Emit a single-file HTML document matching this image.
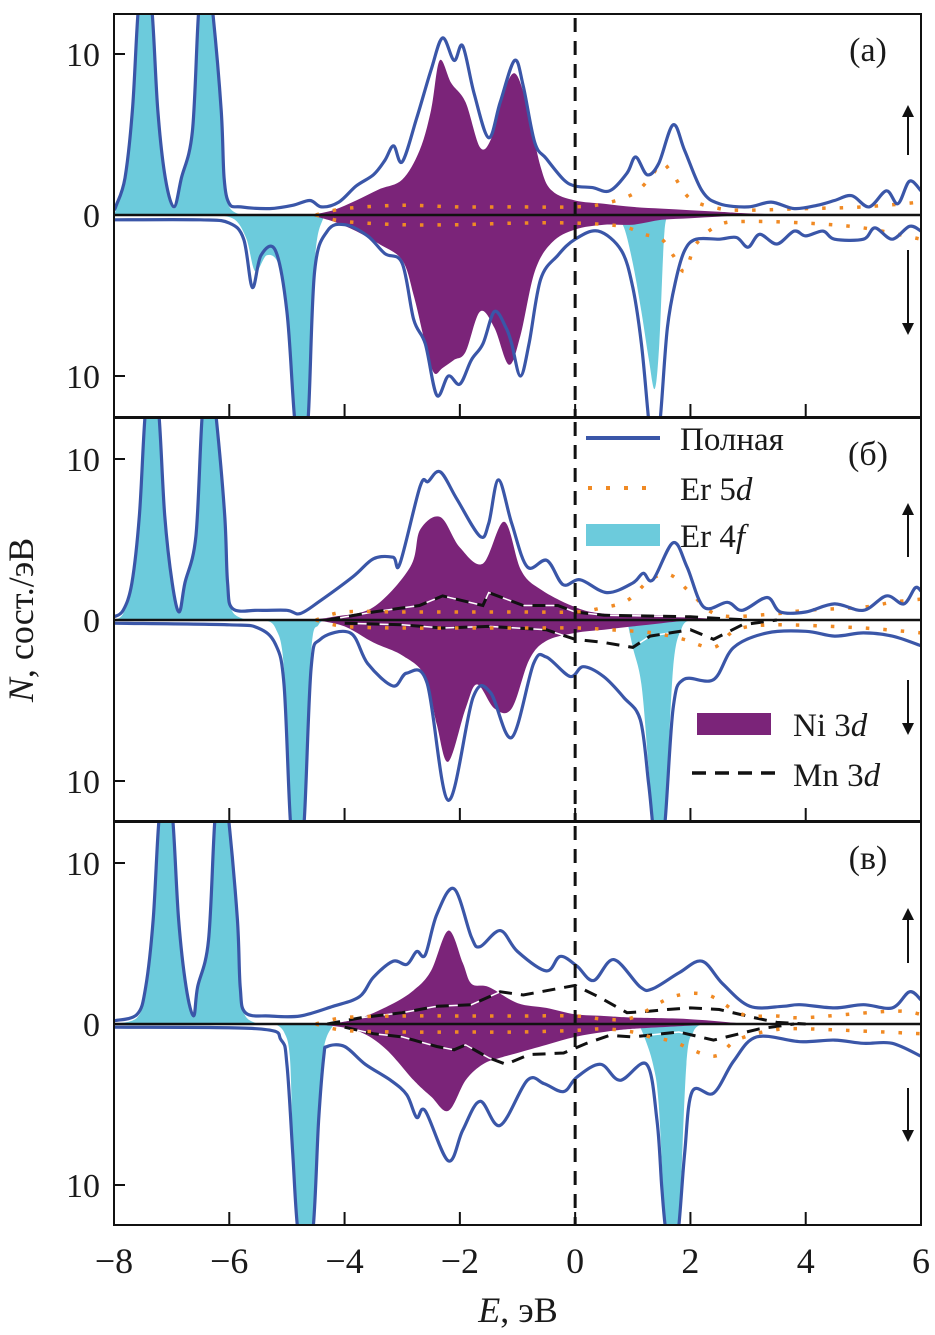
<!DOCTYPE html>
<html><head><meta charset="utf-8"><style>
html,body{margin:0;padding:0;background:#fff;}
svg{display:block;}
text{font-family:"Liberation Serif",serif;fill:#1a1a1a;}
</style></head><body>
<svg id="chart" width="935" height="1335" viewBox="0 0 935 1335" xmlns="http://www.w3.org/2000/svg">
<defs>
<clipPath id="clip0"><rect x="114" y="14" width="807" height="403"/></clipPath>
<clipPath id="clip1"><rect x="114" y="419" width="807" height="402"/></clipPath>
<clipPath id="clip2"><rect x="114" y="823" width="807" height="402"/></clipPath>
</defs>
<g id="plots"></g>
<g id="axes"></g>
<g id="legend">
  <line x1="586" y1="438" x2="660" y2="438" stroke="#3a56a8" stroke-width="4"/>
  <text x="680" y="450" font-size="33">Полная</text>
  <line x1="588" y1="488" x2="660" y2="488" stroke="#f08a24" stroke-width="4" stroke-dasharray="4 14"/>
  <text x="680" y="500" font-size="33">Er 5<tspan font-style="italic">d</tspan></text>
  <rect x="586" y="524" width="74" height="22" fill="#6ccbdc"/>
  <text x="680" y="547" font-size="33">Er 4<tspan font-style="italic">f</tspan></text>
  <rect x="697" y="713" width="74" height="22" fill="#7b2479"/>
  <text x="793" y="736" font-size="33">Ni 3<tspan font-style="italic">d</tspan></text>
  <line x1="692" y1="773" x2="776" y2="773" stroke="#111" stroke-width="3.5" stroke-dasharray="14 9"/>
  <text x="793" y="786" font-size="33">Mn 3<tspan font-style="italic">d</tspan></text>
</g>
</svg>
<script>
// ---------- data ----------
const xTicks = [-8,-6,-4,-2,0,2,4,6];
const xTickLabels = ["−8","−6","−4","−2","0","2","4","6"];
const yTicks = [10,0,-10];
const yTickLabels = ["10","0","10"];
const panelLabels = ["(а)","(б)","(в)"];

const aTotalUp = [[-8,0.3],[-7.96,0.6],[-7.81,2.3],[-7.68,6.5],[-7.58,12.7],[-7.46,16],[-7.34,12.7],[-7.24,6.5],[-7.11,2.3],[-6.96,0.5],[-6.83,2.3],[-6.64,5.2],[-6.53,12.7],[-6.41,16],[-6.29,12.7],[-6.14,6.5],[-6.09,2.3],[-6.0,0.7],[-5.8,0.5],[-5.3,0.4],[-4.9,0.6],[-4.6,0.9],[-4.4,0.5],[-4.1,0.8],[-3.8,1.8],[-3.5,2.5],[-3.3,3.4],[-3.15,4.3],[-3.0,3.3],[-2.75,6],[-2.5,9],[-2.3,11],[-2.1,9.6],[-1.95,10.5],[-1.75,7.5],[-1.5,4.8],[-1.3,7],[-1.05,9.6],[-0.9,8],[-0.7,4.5],[-0.5,3.5],[-0.2,2.2],[0,1.8],[0.3,1.7],[0.6,1.5],[0.9,2.6],[1.05,3.6],[1.25,2.5],[1.45,3.2],[1.7,5.6],[1.9,4],[2.2,1.5],[2.5,0.7],[3,0.5],[3.4,0.8],[3.8,0.4],[4.2,0.6],[4.5,0.9],[4.8,1.2],[5.1,0.5],[5.4,1.5],[5.6,0.7],[5.8,2.1],[6,1.5]];
const aTotalDown = [[-8,-0.3],[-6.5,-0.3],[-6,-0.5],[-5.75,-1.5],[-5.6,-4.5],[-5.45,-2.5],[-5.2,-2.2],[-5.0,-6],[-4.87,-12.5],[-4.75,-16],[-4.63,-12.5],[-4.52,-3.5],[-4.3,-1],[-4.0,-0.6],[-3.6,-1.3],[-3.3,-2.4],[-3.0,-3],[-2.8,-6.5],[-2.6,-8],[-2.4,-11.2],[-2.2,-10],[-2.0,-10.5],[-1.8,-9],[-1.6,-8],[-1.4,-6],[-1.2,-7],[-1.1,-8],[-0.95,-10],[-0.8,-8],[-0.6,-4],[-0.3,-2.5],[0,-1.5],[0.4,-1],[0.8,-2.2],[1.0,-4.5],[1.15,-8],[1.27,-12.5],[1.37,-16],[1.48,-12.5],[1.6,-7],[1.75,-4],[1.9,-2.2],[2.1,-1.5],[2.5,-1.5],[2.8,-1.4],[3.0,-2],[3.2,-1.2],[3.5,-1.8],[3.8,-1.0],[4.0,-1.3],[4.3,-1.0],[4.5,-1.5],[5,-1.5],[5.2,-0.8],[5.5,-1.5],[5.8,-0.7],[6,-1.0]];
const aNiUp = [[-4.6,0],[-4.2,0.3],[-3.8,0.9],[-3.4,1.6],[-3.0,2.2],[-2.7,4],[-2.5,6.5],[-2.35,9.6],[-2.15,8.2],[-1.9,7],[-1.65,4.2],[-1.45,4.8],[-1.25,7.5],[-1.05,8.8],[-0.85,7],[-0.6,3],[-0.4,1.5],[0,0.9],[0.5,0.7],[1,0.5],[1.5,0.4],[2,0.3],[2.5,0.2],[3,0.1],[4,0]];
const aNiDown = [[-4.6,0],[-4.2,-0.4],[-3.8,-1],[-3.4,-1.8],[-3,-2.8],[-2.8,-5],[-2.6,-8],[-2.45,-9.8],[-2.3,-9.5],[-2.1,-9],[-1.9,-8.5],[-1.65,-6],[-1.4,-7],[-1.15,-9.3],[-0.95,-7.5],[-0.7,-3.5],[-0.4,-1.7],[0,-0.9],[0.5,-0.6],[1,-0.6],[1.5,-0.3],[2,-0.2],[2.5,-0.1],[3,0]];
const aEr4fUp = [[-8,0],[-7.96,0.4],[-7.81,2.1],[-7.68,6.3],[-7.58,12.5],[-7.46,16],[-7.34,12.5],[-7.24,6.3],[-7.11,2.1],[-6.96,0.4],[-6.83,2.1],[-6.64,5],[-6.53,12.5],[-6.41,16],[-6.29,12.5],[-6.14,6.3],[-6.09,2.1],[-6.0,0.5],[-5.8,0]];
const aEr4fDown = [[-6.2,0],[-5.9,-0.3],[-5.7,-1.5],[-5.55,-3.5],[-5.35,-2.5],[-5.15,-3],[-5.0,-5.5],[-4.87,-12.5],[-4.75,-16],[-4.63,-12.5],[-4.52,-3],[-4.38,-0.3],[-4.2,0]];
const aEr4fDown2 = [[0.7,0],[0.85,-0.8],[1.0,-3],[1.15,-6],[1.28,-9],[1.38,-10.8],[1.46,-8],[1.55,-1],[1.65,0]];
const aEr5dUp = [[-4.5,0],[-4,0.4],[-3,0.6],[-2,0.5],[-1,0.5],[0,0.5],[0.5,0.7],[1,1.3],[1.3,2.3],[1.5,3.2],[1.7,2.5],[2,1],[2.5,0.4],[3,0.3],[4,0.4],[5,0.5],[6,0.8]];
const aEr5dDown = [[-4.5,0],[-4,-0.4],[-3,-0.6],[-2,-0.6],[-1,-0.5],[0,-0.5],[0.8,-0.7],[1.2,-1.2],[1.5,-1.5],[1.7,-2.5],[1.9,-3.5],[2.1,-1.8],[2.5,-0.6],[3,-0.4],[4,-0.5],[5,-0.8],[6,-1.5]];

const bTotalUp = [[-8,0.2],[-7.84,0.6],[-7.69,2.3],[-7.56,6.5],[-7.46,12.7],[-7.34,16],[-7.22,12.7],[-7.12,6.5],[-6.99,2.3],[-6.87,0.5],[-6.77,2.3],[-6.58,5.2],[-6.47,12.7],[-6.35,16],[-6.23,12.7],[-6.08,6.5],[-6.03,2.3],[-5.94,0.7],[-5.5,0.6],[-5,0.6],[-4.77,0.4],[-4.42,1.2],[-3.85,2.7],[-3.5,3.8],[-3.16,3.9],[-3.04,3.5],[-2.69,8.3],[-2.55,8.6],[-2.34,9.2],[-2.05,7.5],[-1.65,5.2],[-1.5,6],[-1.33,8.7],[-1.1,6],[-0.83,3.3],[-0.49,3.7],[-0.21,2.2],[0.09,2.5],[0.55,1.7],[1.0,2.3],[1.18,2.9],[1.35,2.5],[1.7,4.8],[1.94,3.3],[2.23,0.8],[2.64,1.1],[2.9,0.6],[3.33,1.4],[3.56,0.5],[4,0.5],[4.5,1],[5,0.6],[5.4,1.5],[5.7,1.0],[5.9,2.0],[6,1.8]];
const bTotalDown = [[-8,-0.2],[-6,-0.3],[-5.5,-0.5],[-5.2,-1.5],[-5.05,-4],[-4.94,-12.5],[-4.82,-16],[-4.70,-12.5],[-4.58,-3],[-4.42,-1.2],[-3.9,-0.8],[-3.6,-2.7],[-3.16,-4.1],[-2.92,-3.3],[-2.57,-3.9],[-2.2,-11.2],[-1.77,-4.8],[-1.47,-4.5],[-1.1,-7.3],[-0.72,-2.7],[-0.5,-2.3],[-0.09,-3.5],[0.14,-2.9],[0.49,-3.5],[0.84,-4.8],[1.13,-6.2],[1.27,-10],[1.34,-12.5],[1.44,-16],[1.56,-12.5],[1.7,-5.5],[1.88,-3.7],[2.4,-3.7],[2.75,-1.7],[3.33,-0.8],[4,-0.7],[4.5,-1.0],[5,-0.8],[5.5,-1.0],[6,-1.6]];
const bNiUp = [[-4.6,0],[-4.2,0.2],[-3.5,0.8],[-2.86,3.3],[-2.69,5.6],[-2.34,6.4],[-2.0,4.5],[-1.6,3.5],[-1.23,6.1],[-0.94,3.1],[-0.6,1.9],[0,0.8],[0.5,0.4],[1.5,0.3],[2.5,0.1],[3,0]];
const bNiDown = [[-4.5,0],[-4,-0.4],[-3.5,-1.4],[-3.0,-2.2],[-2.6,-3.5],[-2.4,-6.5],[-2.2,-8.8],[-1.9,-5.5],[-1.7,-4.0],[-1.4,-5.5],[-1.1,-5.5],[-0.8,-2.5],[-0.5,-1.3],[0,-0.8],[0.5,-0.6],[1,-0.4],[1.5,-0.2],[2,0]];
const bEr4fUp = [[-8,0],[-7.84,0.4],[-7.69,2.1],[-7.56,6.3],[-7.46,12.5],[-7.34,16],[-7.22,12.5],[-7.12,6.3],[-6.99,2.1],[-6.87,0.4],[-6.77,2.1],[-6.58,5],[-6.47,12.5],[-6.35,16],[-6.23,12.5],[-6.08,6.3],[-6.03,2.1],[-5.94,0.5],[-5.7,0]];
const bEr4fDown = [[-5.4,0],[-5.2,-0.5],[-5.05,-3],[-4.94,-12.5],[-4.82,-16],[-4.70,-12.5],[-4.58,-2],[-4.45,-0.3],[-4.3,0]];
const bEr4fDown2 = [[0.9,0],[1.0,-1.7],[1.15,-4],[1.27,-9],[1.34,-12.5],[1.44,-16],[1.56,-12.5],[1.7,-3],[1.85,-0.5],[2.0,0]];
const bEr5dUp = [[-4.5,0],[-4,0.5],[-3,0.5],[-2,0.5],[-1,0.5],[0,0.5],[0.4,0.7],[0.9,1.2],[1.3,2.5],[1.65,2.8],[2.0,1.7],[2.5,0.3],[3.5,0.4],[4,0.6],[5,0.8],[5.5,1.1],[6,1.3]];
const bEr5dDown = [[-4.5,0],[-4,-0.4],[-3,-0.5],[-2,-0.5],[-1,-0.5],[0,-0.5],[0.6,-0.6],[1.35,-0.8],[1.88,-1.2],[2.4,-1.7],[2.8,-0.6],[3.5,-0.3],[5,-0.5],[6,-0.8]];
const bMnUp = [[-4.3,0],[-3.5,0.5],[-2.7,0.9],[-2.3,1.5],[-1.6,0.9],[-1.5,1.7],[-0.9,0.9],[-0.3,0.9],[0,0.5],[0.5,0.3],[2,0.2],[3,0]];
const bMnDown = [[-4,-0.2],[-3,-0.3],[-2.3,-0.5],[-1.5,-0.4],[-0.5,-0.6],[0,-1.2],[0.5,-1.4],[1.0,-1.7],[1.3,-1.0],[2.0,-0.6],[2.4,-1.2],[2.9,-0.3],[3.5,0]];

const cTotalUp = [[-8,0.2],[-7.6,0.6],[-7.45,2.3],[-7.32,6.5],[-7.22,12.7],[-7.1,16],[-6.98,12.7],[-6.88,6.5],[-6.75,2.3],[-6.62,0.5],[-6.55,2.3],[-6.36,5.2],[-6.25,12.7],[-6.13,16],[-6.01,12.7],[-5.86,6.5],[-5.81,2.3],[-5.72,0.7],[-5.3,0.5],[-4.77,0.5],[-4.2,1.1],[-3.74,1.7],[-3.5,2.9],[-3.16,3.9],[-2.92,3.7],[-2.75,4.5],[-2.6,4.3],[-2.4,6.8],[-2.1,8.4],[-1.8,5.4],[-1.65,4.8],[-1.3,5.8],[-1.0,4.5],[-0.5,3.3],[-0.26,4.2],[0.03,3.6],[0.32,2.7],[0.67,4.0],[1.13,2.3],[1.35,2.2],[1.81,3.2],[2.2,3.9],[2.56,2.5],[3.03,1.1],[3.6,1.1],[3.9,1.2],[4.5,1.0],[5,1.2],[5.5,1.0],[5.8,2.0],[6,1.5]];
const cTotalDown = [[-8,-0.2],[-5.5,-0.3],[-5.1,-1],[-5.0,-2.5],[-4.9,-8],[-4.82,-12.5],[-4.68,-16],[-4.54,-12.5],[-4.45,-6],[-4.36,-2],[-4.3,-1.4],[-4.0,-1.4],[-3.64,-2.5],[-3.2,-3.5],[-2.92,-4.4],[-2.75,-5.8],[-2.6,-5.4],[-2.2,-8.5],[-1.95,-6.6],[-1.65,-4.8],[-1.3,-6.3],[-0.83,-3.5],[-0.54,-3.7],[-0.2,-4.2],[0.03,-3.3],[0.44,-2.5],[0.78,-3.5],[1.24,-2.5],[1.42,-6],[1.5,-10],[1.56,-12.5],[1.68,-16],[1.8,-12.5],[1.9,-8],[2.03,-4.2],[2.4,-4.3],[2.75,-2.3],[3.15,-0.8],[3.9,-1.1],[4.5,-1.0],[5,-1.2],[5.5,-1.2],[6,-2.0]];
const cNiUp = [[-4.5,0],[-3.8,0.3],[-3.2,1.2],[-2.8,2.1],[-2.5,3.3],[-2.2,5.8],[-1.95,3.8],[-1.8,2.5],[-1.5,2.3],[-1.0,1.3],[-0.5,1.0],[0,0.6],[0.5,0.5],[1.0,0.4],[2,0.3],[3,0]];
const cNiDown = [[-4.5,0],[-3.8,-0.4],[-3.3,-1.5],[-2.8,-3.5],[-2.5,-4.5],[-2.2,-5.4],[-1.9,-3.5],[-1.6,-2.5],[-1.3,-2.1],[-1.0,-1.8],[-0.5,-1.3],[0,-0.8],[0.5,-0.5],[1,-0.3],[2,-0.1],[2.5,0]];
const cEr4fUp = [[-8,0],[-7.6,0.4],[-7.45,2.1],[-7.32,6.3],[-7.22,12.5],[-7.1,16],[-6.98,12.5],[-6.88,6.3],[-6.75,2.1],[-6.62,0.4],[-6.55,2.1],[-6.36,5],[-6.25,12.5],[-6.13,16],[-6.01,12.5],[-5.86,6.3],[-5.81,2.1],[-5.72,0.5],[-5.5,0]];
const cEr4fDown = [[-5.2,0],[-5.05,-0.5],[-4.95,-2],[-4.9,-7],[-4.82,-12.5],[-4.68,-16],[-4.54,-12.5],[-4.45,-5],[-4.36,-1.5],[-4.22,-0.2],[-4.1,0]];
const cEr4fDown2 = [[1.1,0],[1.2,-0.8],[1.35,-2.5],[1.45,-5],[1.56,-12.5],[1.68,-16],[1.8,-12.5],[1.93,-2.5],[2.05,-0.5],[2.2,0]];
const cEr5dUp = [[-4.5,0],[-4,0.4],[-3,0.5],[-2,0.5],[-1,0.5],[0,0.5],[0.5,0.3],[1.0,0.4],[1.7,1.7],[2.3,1.8],[2.9,0.6],[3.5,0.5],[4,0.4],[5.5,0.8],[6,0.6]];
const cEr5dDown = [[-4.5,0],[-4,-0.4],[-3,-0.5],[-2,-0.5],[-1,-0.5],[0,-0.4],[0.5,-0.3],[1.0,-0.5],[1.3,-0.8],[1.7,-1.1],[2.4,-2.0],[2.8,-1.0],[3.4,-0.4],[4,-0.3],[6,-0.6]];
const cMnUp = [[-4.3,0],[-3.7,0.4],[-3,0.7],[-2.4,1.1],[-1.8,1.2],[-1.3,2.0],[-0.9,1.8],[0,2.4],[0.4,1.7],[0.9,0.7],[1.3,0.8],[1.6,0.9],[2.0,1.0],[2.5,0.9],[3.1,0.4],[3.5,0.1],[4,0]];
const cMnDown = [[-4,-0.2],[-3.5,-0.6],[-3,-0.8],[-2.8,-1.0],[-2.4,-1.4],[-2.1,-1.6],[-1.9,-1.3],[-1.5,-2.1],[-1.2,-2.5],[-0.8,-1.9],[-0.2,-1.8],[0.2,-1.2],[0.6,-0.7],[1.0,-0.8],[1.8,-0.5],[2.4,-1.0],[3.2,-0.3],[3.8,0]];

// ---------- layout ----------
const X0 = 114, X1 = 921, EMIN = -8, EMAX = 6;
const panels = [
  {zero:215, top:14, bot:417, tot:[aTotalUp,aTotalDown], ni:[aNiUp,aNiDown], f:[aEr4fUp,aEr4fDown,aEr4fDown2], d:[aEr5dUp,aEr5dDown], mn:[], arrowUp:[155,105], arrowDn:[250,335]},
  {zero:620, top:418, bot:821, tot:[bTotalUp,bTotalDown], ni:[bNiUp,bNiDown], f:[bEr4fUp,bEr4fDown,bEr4fDown2], d:[bEr5dUp,bEr5dDown], mn:[bMnUp,bMnDown], arrowUp:[557,503], arrowDn:[680,735]},
  {zero:1024, top:822, bot:1225, tot:[cTotalUp,cTotalDown], ni:[cNiUp,cNiDown], f:[cEr4fUp,cEr4fDown,cEr4fDown2], d:[cEr5dUp,cEr5dDown], mn:[cMnUp,cMnDown], arrowUp:[963,908], arrowDn:[1088,1142]}
];
const PXU = 16.1;
const xs = e => X0 + (e - EMIN) * (X1 - X0) / (EMAX - EMIN);
const NS = "http://www.w3.org/2000/svg";
function mk(tag, attrs, parent){ const el=document.createElementNS(NS,tag); for(const k in attrs) el.setAttribute(k,attrs[k]); parent.appendChild(el); return el; }
function smooth(pts){
  let d = "M"+pts[0][0].toFixed(1)+","+pts[0][1].toFixed(1);
  for(let i=0;i<pts.length-1;i++){
    const p0=pts[Math.max(0,i-1)], p1=pts[i], p2=pts[i+1], p3=pts[Math.min(pts.length-1,i+2)];
    const c1=[p1[0]+(p2[0]-p0[0])/6, p1[1]+(p2[1]-p0[1])/6];
    const c2=[p2[0]-(p3[0]-p1[0])/6, p2[1]-(p3[1]-p1[1])/6];
    d += " C"+c1[0].toFixed(1)+","+c1[1].toFixed(1)+" "+c2[0].toFixed(1)+","+c2[1].toFixed(1)+" "+p2[0].toFixed(1)+","+p2[1].toFixed(1);
  }
  return d;
}
const plots = document.getElementById('plots');
const axes = document.getElementById('axes');
const names = ['a','b','c'];
panels.forEach((P, pi) => {
  const ys = n => P.zero - n * PXU;
  const toPx = arr => arr.map(p => [xs(p[0]), ys(p[1])]);
  const g = mk('g', {'clip-path':'url(#clip'+pi+')'}, plots);
  
  
  P.f.forEach((s, si) => {
    const pts = toPx(s);
    const d = smooth(pts) + " L"+xs(s[s.length-1][0]).toFixed(1)+","+ys(0)+" L"+xs(s[0][0]).toFixed(1)+","+ys(0)+" Z";
    const el = mk('path', {d:d, fill:'#6ccbdc', stroke:'none'}, g);
    
    
  });
  P.ni.forEach((s, si) => {
    const pts = toPx(s);
    const d = smooth(pts) + " L"+xs(s[s.length-1][0]).toFixed(1)+","+ys(0)+" L"+xs(s[0][0]).toFixed(1)+","+ys(0)+" Z";
    const el = mk('path', {d:d, fill:'#7b2479', stroke:'none'}, g);
    
    
  });
  P.mn.forEach((s, si) => {
    const d = toPx(s).map((p,i)=>(i?'L':'M')+p[0].toFixed(1)+','+p[1].toFixed(1)).join(' ');
    const w = mk('path', {d:d, fill:'none', stroke:'#fff', 'stroke-width':1.5}, g);
    
    
    const el = mk('path', {d:d, fill:'none', stroke:'#111', 'stroke-width':3, 'stroke-dasharray':'13 9'}, g);
    
    
  });
  P.d.forEach((s, si) => {
    const el = mk('path', {d:smooth(toPx(s)), fill:'none', stroke:'#f08a24', 'stroke-width':3.5, 'stroke-dasharray':'3.5 14'}, g);
    
    
  });
  P.tot.forEach((s, si) => {
    const el = mk('path', {d:smooth(toPx(s)), fill:'none', stroke:'#3a56a8', 'stroke-width':3.2, 'stroke-linejoin':'round'}, g);
    
    
  });
  const z = mk('line', {x1:X0, x2:X1, y1:P.zero, y2:P.zero, stroke:'#111', 'stroke-width':2.5}, g);
  
  
  const fl = mk('line', {x1:xs(0), x2:xs(0), y1:P.top+4, y2:P.bot, stroke:'#111', 'stroke-width':3, 'stroke-dasharray':'14 9'}, g);
  
  

  const fr = mk('rect', {x:X0, y:P.top, width:X1-X0, height:P.bot-P.top, fill:'none', stroke:'#111', 'stroke-width':2}, axes);
  
  
  xTicks.forEach((t, ti) => {
    const tk = mk('line', {x1:xs(t), x2:xs(t), y1:P.bot, y2:P.bot-13, stroke:'#111', 'stroke-width':2}, axes);
    
    
  });
  yTicks.forEach((t, ti) => {
    const tk = mk('line', {x1:X0, x2:X0+11, y1:ys(t), y2:ys(t), stroke:'#111', 'stroke-width':2}, axes);
    
    
    const lb = mk('text', {x:100, y:ys(t)+12, 'font-size':34, 'text-anchor':'end'}, axes);
    lb.textContent = yTickLabels[ti];
    
    
  });
  const pl = mk('text', {x:868, y:P.top+47, 'font-size':34, 'text-anchor':'middle'}, axes);
  pl.textContent = panelLabels[pi];
  
  
  [[P.arrowUp, 'spin-up-arrow'], [P.arrowDn, 'spin-down-arrow']].forEach(([a, nm]) => {
    const ag = mk('g', {}, axes);
    
    
    const dir = a[1] < a[0] ? -1 : 1;
    mk('line', {x1:908, x2:908, y1:a[0], y2:a[1]-dir*8, stroke:'#111', 'stroke-width':2}, ag);
    mk('path', {d:'M902,'+(a[1]-dir*12)+' L908,'+a[1]+' L914,'+(a[1]-dir*12)+' Z', fill:'#111'}, ag);
  });
});
xTicks.forEach((t, ti) => {
  const lb = mk('text', {x:xs(t), y:1273, 'font-size':36, 'text-anchor':'middle'}, axes);
  lb.textContent = xTickLabels[ti];
  
  
});
const xt = mk('text', {x:518, y:1322, 'font-size':36, 'text-anchor':'middle'}, axes);
xt.innerHTML = '<tspan font-style="italic">E</tspan>, эВ';


const yt = mk('text', {x:0, y:0, 'font-size':36, 'text-anchor':'middle', transform:'translate(33,620) rotate(-90)'}, axes);
yt.innerHTML = '<tspan font-style="italic">N</tspan>, сост./эВ';


document.getElementById('chart').appendChild(document.getElementById('legend'));
</script>
</body></html>
